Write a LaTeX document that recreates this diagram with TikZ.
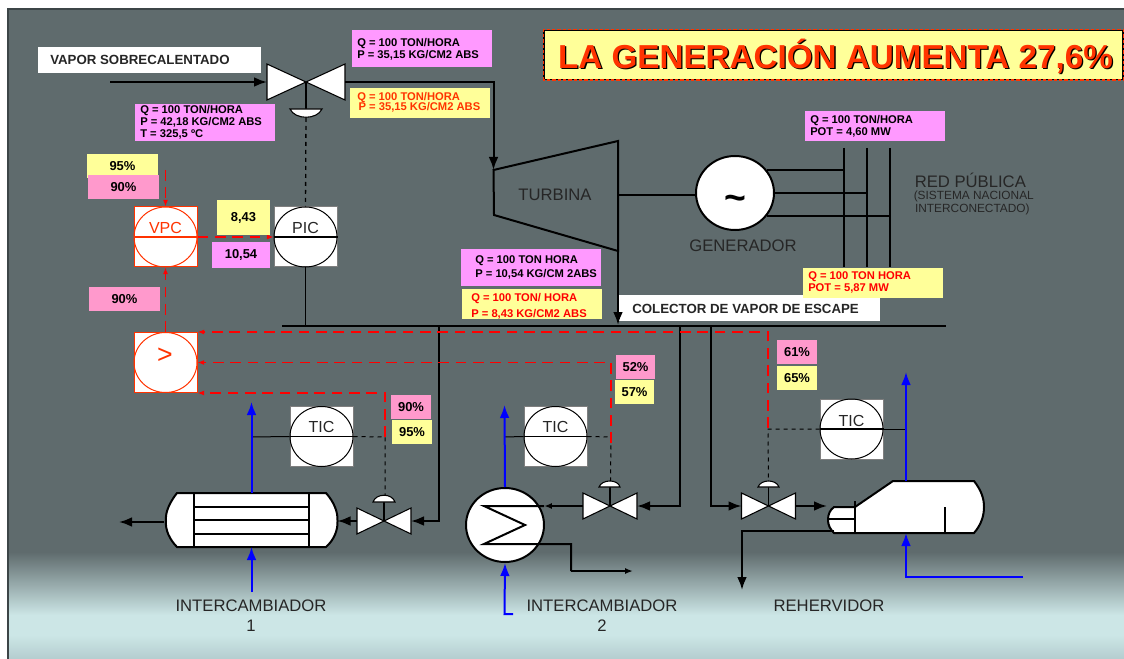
\documentclass[tikz,border=0pt]{standalone}
\usepackage{fontspec}
\usepackage{xcolor}
\usetikzlibrary{arrows.meta,shapes.geometric}
\setmainfont{Liberation Sans}
\definecolor{bggrey}{HTML}{5F6B6D}
\definecolor{bgdark}{HTML}{3C4547}
\definecolor{bglight}{HTML}{CCE6E6}
\definecolor{bglow}{HTML}{B4CDCF}
\definecolor{tagmag}{HTML}{FF99FF}
\definecolor{tagyel}{HTML}{FFFF99}
\definecolor{tagpink}{HTML}{FF99CC}
\definecolor{orangered}{HTML}{FF3300}
\definecolor{boxgrey}{HTML}{7F7F7F}
\newcommand{\instr}[5]{\node[instbox, draw=#4] (#1) at (#2,#3) {};
\draw[draw=#5, line width=0.75pt] (#1.center) ellipse [x radius=31.5, y radius=30];}
\newcommand{\valve}[5]{\coordinate (#1) at (#2,#3);
\coordinate (#1l) at (#2-#4,#3);
\coordinate (#1r) at (#2+#4,#3);
\draw[fill=white, line width=0.8pt] (#1) -- ++(-#4,-#5) -- ++(0,2*#5) -- cycle;
\draw[fill=white, line width=0.8pt] (#1) -- ++(#4,-#5) -- ++(0,2*#5) -- cycle;}
\tikzset{
  sized/.style 2 args={minimum width=#1*0.75pt, minimum height=#2*0.75pt, inner sep=0pt},
  instbox/.style={rectangle, fill=white, line width=0.75pt, minimum width=47.25pt, minimum height=45pt, inner sep=0pt},
  tagtext/.style={anchor=west, align=left, inner sep=0pt, font=\fontsize{8.4}{9}\selectfont\bfseries},
  pcttag/.style={font=\fontsize{9.7}{11}\selectfont\bfseries},
  bigtext/.style={font=\fontsize{12.5}{14}\selectfont, text=black!85},
  pipe/.style={line width=1.5pt},
  bluepipe/.style={line width=1.5pt, draw=blue, -{Latex}},
  signal/.style={draw=red, line width=0.9pt, dash pattern=on 8pt off 5pt, -{Latex[scale=0.7]}},
  wire/.style={line width=0.75pt}
}
\begin{document}
\begin{tikzpicture}[x=0.75pt, y=-0.75pt]
\useasboundingbox (0,0) rectangle (1124,659);
% background
\fill[white] (0,0) rectangle (1124,659);
\fill[bggrey] (8,9) rectangle (1124,552);
\shade[top color=bggrey, bottom color=bglight] (8,552) rectangle (1124,615);
\fill[bglight] (8,615) rectangle (1124,635);
\shade[top color=bglight, bottom color=bglow] (8,635) rectangle (1124,659);
\draw[bgdark, line width=1pt] (8,659) -- (8,9) -- (1124,9);

% title
\node[sized={579}{49}, fill=tagyel, draw=black, line width=0.8pt] (titlebox) at (833.5,55) {};
\draw[orangered, line width=0.8pt, dash pattern=on 2.5pt off 1.5pt] (titlebox.south west) rectangle (titlebox.north east);
\node[font=\fontsize{24.9}{28}\selectfont\bfseries, text=black] (titleshadow) at (836.8,57.3) {LA GENERACIÓN AUMENTA 27,6\%};
\node[font=\fontsize{24.9}{28}\selectfont\bfseries, text=orangered] (title) at (835.5,56) {LA GENERACIÓN AUMENTA 27,6\%};

% white labels
\node[sized={223}{26}, fill=white] (vaporbox) at (149.5,60) {};
\node[tagtext, font=\fontsize{9.95}{11}\selectfont\bfseries, text=black!85] (vaportext) at (50,60) {VAPOR SOBRECALENTADO};
\node[sized={261}{26}, fill=white] (colectorbox) at (749.5,308) {};
\node[tagtext, font=\fontsize{9.95}{11}\selectfont\bfseries, text=black!85] (colectortext) at (632,309) {COLECTOR DE VAPOR DE ESCAPE};

% tags with flow data
\node[sized={140}{37}, fill=tagmag] (tagmain) at (422,48.5) {};
\node[tagtext] (tagmaintext) at (357,49) {Q = 100 TON/HORA\\P = 35,15 KG/CM2 ABS};
\node[sized={140}{30}, fill=tagyel] (tagmainy) at (420,103) {};
\node[tagtext, text=orangered] (tagmainytext) at (357,102.5) {Q = 100 TON/HORA\\[-1.5pt]\hspace{1pt}P = 35,15 KG/CM2 ABS};
\node[sized={140}{37}, fill=tagmag] (taginlet) at (205,122.5) {};
\node[tagtext] (taginlettext) at (140,122.5) {Q = 100 TON/HORA\\P = 42,18 KG/CM2 ABS\\T = 325,5 ºC};
\node[sized={140}{30}, fill=tagmag] (tagpot) at (875,126) {};
\node[tagtext] (tagpottext) at (810,126) {Q = 100 TON/HORA\\POT = 4,60 MW};
\node[sized={140}{30}, fill=tagyel] (tagpoty) at (873,283) {};
\node[tagtext, text=red] (tagpotytext) at (808,282.5) {Q = 100 TON HORA\\[-0.4pt]POT = 5,87 MW};
\node[sized={140}{37}, fill=tagmag] (tagexh) at (531,267.5) {};
\node[tagtext] (tagexhtext) at (475,267.5) {Q = 100 TON HORA\\[1.5pt]P = 10,54 KG/CM 2ABS};
\node[sized={140}{30}, fill=tagyel] (tagexhy) at (532,304) {};
\node[tagtext, text=red] (tagexhytext) at (471,306) {Q = 100 TON/ HORA\\[3pt]P = 8,43 KG/CM2 ABS};

% valves and pipes
\valve{mv}{306}{82}{39}{18}
\valve{vone}{384}{521}{27}{13}
\valve{vtwo}{610}{506}{27}{13}
\valve{vthree}{768.5}{506}{27}{13}
\coordinate (steamin) at (110,82);
\coordinate (turbin) at (493.5,170);
\coordinate (turbtop) at (618,141);
\coordinate (turbbot) at (618,251);
\coordinate (turblow) at (494,215);
\coordinate (turbcoll) at (618,325);
\coordinate (collw) at (282,326);
\coordinate (colle) at (946,326);
\coordinate (branchone) at (439,326);
\coordinate (branchtwo) at (680,326);
\coordinate (branchthree) at (711,326);
\draw[pipe, -{Latex}] (steamin) -- (mvl);
\draw[pipe, -{Latex}] (mvr) -| (turbin);
\draw[pipe] (turbin) -- (turbtop) -- (turbbot) -- (turblow) -- cycle;
\draw[pipe, -{Latex}] (turbbot) -- (turbcoll);
\draw[line width=2.2pt] (collw) -- (colle);
\draw[pipe, -{Latex}] (branchone) |- (voner);
\draw[pipe, -{Latex}] (branchtwo) |- (vtwor);
\draw[pipe, -{Latex}] (branchthree) |- (vthreel);

% turbine and generator
\node[bigtext] (turbina) at (555,195) {TURBINA};
\node[ellipse, draw=black, fill=white, line width=1.5pt, sized={78}{74}] (gen) at (735,193) {};
\node[font=\fontsize{28}{28}\selectfont\bfseries] (gentilde) at (735,203) {\textasciitilde};
\coordinate (shaft) at (618,195.5);
\draw[pipe] (shaft) -- (gen.west |- shaft);
\node[bigtext] (generador) at (743,246) {GENERADOR};
\coordinate (busatop) at (844,148);
\coordinate (busabot) at (844,267);
\coordinate (busbtop) at (867,148);
\coordinate (busbbot) at (867,267);
\coordinate (busctop) at (890,148);
\coordinate (buscbot) at (890,267);
\draw[pipe] (busatop) -- (busabot);
\draw[pipe] (busbtop) -- (busbbot);
\draw[pipe] (busctop) -- (buscbot);
\draw[pipe] (gen.35) -- (gen.35 -| busatop);
\draw[pipe] (gen.east) -- (gen.east -| busbtop);
\draw[pipe] (gen.-35) -- (gen.-35 -| busctop);
\node[bigtext, anchor=west, inner sep=0pt] (red) at (914.5,180) {RED PÚBLICA};
\node[anchor=west, align=left, inner sep=0pt, text=black!85, font=\fontsize{8.9}{9.75}\selectfont] (sistema) at (913.5,203) {(SISTEMA NACIONAL\\\hspace{1pt}INTERCONECTADO)};

% instruments
\instr{vpc}{165.5}{237}{orangered}{orangered}
\instr{pic}{305.5}{237}{boxgrey}{black}
\instr{cmp}{165.5}{362.5}{orangered}{orangered}
\instr{ticone}{321.5}{436.5}{boxgrey}{black}
\instr{tictwo}{555.5}{436.5}{boxgrey}{black}
\instr{ticthree}{851.5}{429}{boxgrey}{black}
\draw[orangered, line width=0.9pt] (vpc.west) -- (vpc.east);
\draw[wire, line width=1pt] (pic.west) -- (pic.east);
\draw[wire, line width=1pt] (ticone.west) -- (ticone.east);
\draw[wire, line width=1pt] (tictwo.west) -- (tictwo.east);
\draw[wire, line width=1pt] (ticthree.west) -- (ticthree.east);
\node[font=\fontsize{12}{14}\selectfont, text=orangered] (vpctext) at (165.5,228) {VPC};
\node[font=\fontsize{12}{14}\selectfont, text=black!85] (pictext) at (305.5,228) {PIC};
\node[font=\fontsize{20}{20}\selectfont, text=orangered] (cmptext) at (165,356) {>};
\node[font=\fontsize{12}{14}\selectfont, text=black!85] (ticonetext) at (321.5,427) {TIC};
\node[font=\fontsize{12}{14}\selectfont, text=black!85] (tictwotext) at (555.5,427) {TIC};
\node[font=\fontsize{12}{14}\selectfont, text=black!85] (ticthreetext) at (851.5,421) {TIC};

% actuators
\coordinate (mvstem) at (306,109);
\coordinate (mvact) at (306,118);
\draw[wire, line width=1pt] (mv) -- (mvstem);
\draw[fill=white, line width=0.8pt] (290,109) .. controls (295,120) and (317,120) .. (322,109) -- cycle;
\draw[wire, line width=1pt, dashed] (mvact) -- (pic.north);
\draw[wire, line width=1pt] (pic.south) -- (pic.south |- collw);
\coordinate (vonestem) at (384,502);
\coordinate (vonetop) at (385,495);
\draw[wire, line width=1pt] (vone) -- (vonestem);
\draw[fill=white, line width=0.8pt] (373,502) .. controls (376,493) and (392,493) .. (395,502) -- cycle;
\coordinate (vtwostem) at (610,487);
\coordinate (vtwotop) at (610.5,481);
\draw[wire, line width=1pt] (vtwo) -- (vtwostem);
\draw[fill=white, line width=0.8pt] (599,487) .. controls (602,479) and (618,479) .. (620,487) -- cycle;
\coordinate (vthreestem) at (768.5,487);
\coordinate (vthreetop) at (768.5,481);
\draw[wire, line width=1pt] (vthree) -- (vthreestem);
\draw[fill=white, line width=0.8pt] (758,487) .. controls (761,479) and (776,479) .. (779,487) -- cycle;

% dashed signals from the temperature controllers
\coordinate (dropone) at (385,437);
\coordinate (droptwo) at (611,437);
\coordinate (dropthree) at (768,429);
\coordinate (tapone) at (251.5,437);
\coordinate (taptwo) at (504.5,437);
\coordinate (tapthree) at (906,429);
\draw[wire] (tapone) -- (ticone.west);
\draw[wire] (taptwo) -- (tictwo.west);
\draw[wire] (ticthree.east) -- (tapthree);
\draw[wire, dashed] (ticone.east) -- (dropone) -- (vonetop);
\draw[wire, dashed] (tictwo.east) -- (droptwo) -- (vtwotop);
\draw[wire, dashed] (ticthree.west) -- (dropthree) -- (vthreetop);

% red signals
\coordinate (vpcin) at (165.5,170);
\coordinate (redone) at (385,437);
\coordinate (redtwo) at (611,443);
\coordinate (redthree) at (768,428);
\draw[signal] (vpcin) -- (vpc.north);
\draw[signal] (cmp.north) -- (vpc.south);
\draw[signal] (vpc.east) -- (pic.west);
\draw[signal] (redone) |- (cmp.south east);
\draw[signal] (redtwo) |- (cmp.east);
\draw[signal] (redthree) |- (cmp.north east);

% percent tags
\node[sized={71}{24}, fill=tagyel, pcttag] (p95a) at (122.5,166) {95\%};
\node[sized={71}{24}, fill=tagpink, pcttag] (p90a) at (123.5,187) {90\%};
\node[sized={71}{24}, fill=tagpink, pcttag] (p90b) at (124.5,299) {90\%};
\node[sized={53}{35}, fill=tagyel, pcttag] (p843) at (243.5,217.5) {8,43};
\node[sized={58}{26}, fill=tagmag, pcttag] (p1054) at (241,255) {10,54};
\node[sized={40}{24}, fill=tagpink, pcttag] (p90c) at (411,407) {90\%};
\node[sized={40}{24}, fill=tagyel, pcttag] (p95c) at (412,432) {95\%};
\node[sized={39}{24}, fill=tagpink, pcttag] (p52) at (635.5,367) {52\%};
\node[sized={39}{24}, fill=tagyel, pcttag] (p57) at (634.5,392) {57\%};
\node[sized={40}{24}, fill=tagpink, pcttag] (p61) at (797,352) {61\%};
\node[sized={40}{24}, fill=tagyel, pcttag] (p65) at (797,378) {65\%};

% exchanger 1
\coordinate (hxonenorth) at (251.5,493);
\coordinate (hxonesouth) at (251.5,547);
\coordinate (hxonewest) at (166,521);
\coordinate (hxoneeast) at (337.5,521);
\coordinate (hxoneout) at (119,522);
\coordinate (blueoneout) at (251.5,402);
\coordinate (blueonein) at (251.5,592);
\draw[pipe, fill=white] (177,493) -- (326,493) .. controls (334,502) and (338,512) .. (hxoneeast) .. controls (338,530) and (334,540) .. (326,547) -- (177,547) .. controls (170,540) and (165,530) .. (hxonewest) .. controls (165,512) and (170,502) .. (177,493) -- cycle;
\draw[pipe] (194,493) -- (194,547);
\draw[pipe] (309,493) -- (309,547);
\draw[pipe] (194,507) -- (309,507);
\draw[pipe] (194,520) -- (309,520);
\draw[pipe] (194,534) -- (309,534);
\draw[pipe, -{Latex}] (vonel) -- (hxoneeast);
\draw[pipe, -{Latex}] (164,522) -- (hxoneout);
\draw[bluepipe] (hxonenorth) -- (blueoneout);
\draw[bluepipe] (blueonein) -- (hxonesouth);

% exchanger 2
\node[ellipse, draw=black, fill=white, line width=1.5pt, sized={78}{74}] (hxtwo) at (505,525) {};
\coordinate (zigtop) at (484,506);
\coordinate (zigmid) at (525,525);
\coordinate (zigbot) at (484,544);
\coordinate (hxtwoin) at (544,506);
\coordinate (hxbend) at (571,544);
\coordinate (hxbendb) at (571,571);
\coordinate (hxtwoout) at (633,571);
\coordinate (bluetwofoot) at (513,614);
\coordinate (bluetwobot) at (504.5,614);
\coordinate (bluetwoout) at (504.5,405);
\draw[pipe] (hxtwoin) -- (zigtop) -- (zigmid) -- (zigbot) -- (hxbend) -- (hxbendb);
\draw[pipe, -{Latex[scale=0.6]}] (hxbendb) -- (hxtwoout);
\draw[pipe, -{Latex[scale=0.6]}] (vtwol) -- (hxtwoin);
\draw[bluepipe] (hxtwo.north) -- (bluetwoout);
\draw[bluepipe] (bluetwofoot) -- (bluetwobot) -- (hxtwo.south);

% reboiler
\coordinate (rbnorth) at (906,481);
\coordinate (rbsouth) at (906,533);
\coordinate (rbin) at (827,506);
\coordinate (rbout) at (834,531);
\coordinate (rbdrop) at (742,590);
\coordinate (bluethreeout) at (906,372);
\coordinate (bluethreefoot) at (906,577);
\coordinate (bluethreeend) at (1023,577);
\draw[pipe, fill=white] (893,481) -- (974,481) .. controls (981,490) and (984,498) .. (984,507) .. controls (984,516) and (981,525) .. (974,533) -- (834,533) .. controls (830,529) and (828,525) .. (828,520) .. controls (828,514) and (830,510) .. (834,507) -- (855,507) -- cycle;
\draw[pipe] (855,501) -- (855,533);
\draw[pipe] (945,507) -- (945,533);
\draw[pipe] (829,519) -- (855,519);
\draw[pipe, -{Latex}] (vthreer) -- (rbin);
\draw[pipe, -{Latex}] (rbout) -| (rbdrop);
\draw[bluepipe] (rbnorth) -- (bluethreeout);
\draw[bluepipe] (bluethreeend) -- (bluethreefoot) -- (rbsouth);

% names at the bottom
\node[bigtext, align=center, font=\fontsize{12.5}{15}\selectfont] (intone) at (251,616) {INTERCAMBIADOR\\1};
\node[bigtext, align=center, font=\fontsize{12.5}{15}\selectfont] (inttwo) at (602,616) {INTERCAMBIADOR\\2};
\node[bigtext] (rehervidor) at (829,606) {REHERVIDOR};
\end{tikzpicture}
\end{document}
